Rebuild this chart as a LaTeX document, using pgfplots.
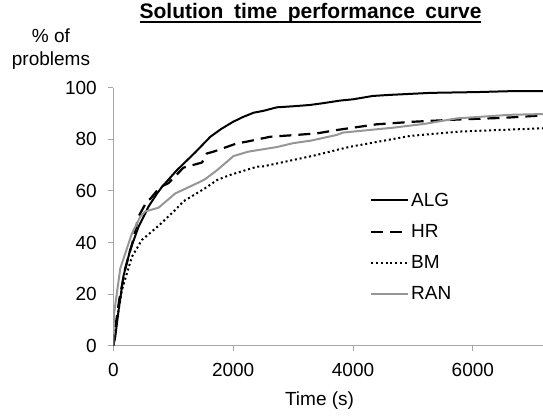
\documentclass[border=0pt]{standalone}
\usepackage{fontspec}
\setmainfont{Liberation Sans}
\usepackage{pgfplots}
\pgfplotsset{compat=1.18}
\newcommand\ulbar[1]{\setbox0\hbox{#1}\rlap{\rule[-3.8bp]{\wd0}{1.8bp}}\box0}
\definecolor{axgray}{HTML}{A6A6A6}
\definecolor{rangray}{HTML}{969696}
\begin{document}
\begin{tikzpicture}
\path[use as bounding box] (-113.3bp,-73.3bp) rectangle (429.7bp,345.7bp);
\begin{axis}[
 at={(0,0)}, anchor=south west,
 scale only axis, width=429.7bp, height=258bp,
 xmin=0, xmax=7170, ymin=0, ymax=100,
 axis x line=bottom, axis y line=left,
 axis line style={draw=axgray, -, line width=0.9bp},
 xtick={0,2000,4000,6000}, ytick={0,20,40,60,80,100},
 tick align=outside, major tick length=5bp,
 tick style={draw=axgray, line width=0.9bp},
 tick label style={font=\fontsize{19bp}{22bp}\selectfont},
 /pgf/number format/assume math mode=true,
 /pgf/number format/1000 sep={},
 xticklabel style={yshift=-9bp},
 yticklabel style={xshift=-8bp},
 xlabel={Time (s)},
 xlabel style={font=\fontsize{19bp}{22bp}\selectfont, at={(rel axis cs:0.48,0)}, anchor=base, yshift=-59.8bp},
 ylabel={\% of\\problems},
 ylabel style={font=\fontsize{19bp}{23bp}\selectfont, rotate=-90, align=center, inner sep=0pt, at={(rel axis cs:0,1)}, anchor=south, xshift=-62.3bp, yshift=18.5bp},
 title={\ulbar{\textbf{Solution\hspace{10.5bp}time\hspace{10.5bp}performance\hspace{10.5bp}curve}}},
 title style={font=\fontsize{21bp}{25bp}\selectfont, at={(rel axis cs:0.459,1)}, anchor=base, yshift=63bp},
 legend style={draw=none, fill=none, at={(rel axis cs:0.597,0.60)}, anchor=north west, font=\fontsize{19bp}{22bp}\selectfont, row sep=12.5bp, inner sep=0pt, cells={anchor=west}},
 legend image code/.code={\draw[#1] (0bp,0bp) -- (37bp,0bp);},
 every axis plot/.append style={line join=round},
]
\addplot[black, line width=2bp] coordinates {
(0,0) (30,3) (90,14) (170,27) (280,37) (420,46) (590,54) (730,59) (810,61.5) (1060,68) (1370,75) (1620,81) (1800,84) (2000,86.8) (2150,88.5) (2340,90.3) (2500,91) (2730,92.4) (3000,92.8) (3280,93.3) (3500,94) (3780,95) (4000,95.5) (4330,96.8) (4600,97.2) (5300,98) (6060,98.3) (6700,98.7) (7200,98.7)};
\addlegendentry{ALG}
\addplot[black, line width=2.2bp, dash pattern=on 12bp off 7bp] coordinates {
(0,0) (40,8) (100,18) (200,30) (320,40) (420,50) (560,56) (620,57) (780,61.5) (920,63) (1170,69) (1480,71) (1560,74.5) (1670,75.2) (1950,77.5) (2060,78.4) (2230,79.1) (2620,81) (3000,81.6) (3400,82.3) (3730,83.6) (4390,85.8) (5000,86.8) (5780,87.7) (6500,88.3) (7200,89.3)};
\addlegendentry{HR}
\addplot[black, line width=2bp, dash pattern=on 2bp off 2.8bp] coordinates {
(0,0) (60,10) (144,21.6) (311,34.5) (478,41) (756,46.5) (1033,52.6) (1172,56) (1530,61) (1730,64.2) (1950,66.2) (2400,69.4) (2500,69.5) (3390,73.9) (3730,75.9) (3950,77.1) (4950,81.3) (5780,83) (7200,84.3)};
\addlegendentry{BM}
\addplot[rangray, line width=2bp] coordinates {
(0,0) (10,12) (117,30) (311,43.5) (450,50) (530,52) (756,53.5) (1033,59) (1400,63) (1530,64.5) (1730,68) (2006,73.5) (2250,75.2) (2730,77) (3000,78.5) (3300,79.5) (3730,81.7) (3830,82.6) (4670,84.5) (5200,86) (5730,88.1) (6620,89.5) (7200,89.8)};
\addlegendentry{RAN}
\end{axis}
\end{tikzpicture}
\end{document}
